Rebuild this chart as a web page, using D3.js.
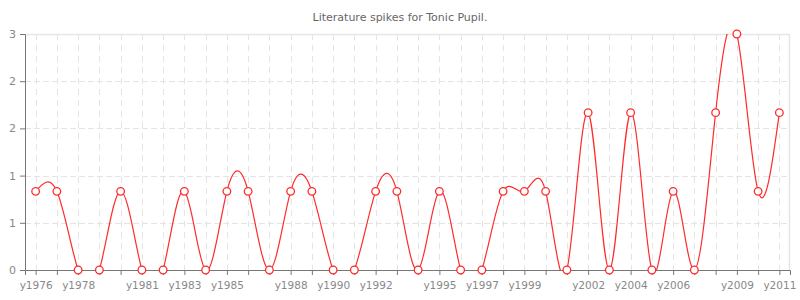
<!DOCTYPE html>
<html>
<head>
<meta charset="utf-8">
<script src="https://cdn.jsdelivr.net/npm/d3@7"></script>
<style>
  body { margin: 0; background: #fff; }
  #chart { width: 800px; height: 300px; }
  text { font-family: "DejaVu Sans", Verdana, sans-serif; }
</style>
</head>
<body>
<div id="chart"></div>
<script>
// Datos
const years = d3.range(1976, 2012).map(d => "y" + d);
const spikes = [1, 1, 0, 0, 1, 0, 0, 1, 0, 1, 1, 0, 1, 1, 0, 0, 1, 1, 0, 1,
                0, 0, 1, 1, 1, 0, 2, 0, 2, 0, 1, 0, 2, 3, 1, 2];
const shownYears = ["y1976", "y1978", "y1981", "y1983", "y1985", "y1988", "y1990", "y1992",
                    "y1995", "y1997", "y1999", "y2002", "y2004", "y2006", "y2009", "y2011"];
const yTicks = [0, 0.6, 1.2, 1.8, 2.4, 3];

const data = years.map((y, i) => ({ year: y, value: spikes[i] }));

const margin = { top: 34, right: 10, bottom: 30, left: 25 };
const width = 800 - margin.left - margin.right;
const height = 300 - margin.top - margin.bottom;

const svg = d3.select("#chart")
    .append("svg")
    .attr("width", 800)
    .attr("height", 300);

// Titulo
svg.append("text")
    .attr("x", 400)
    .attr("y", 21)
    .attr("text-anchor", "middle")
    .style("font-size", "11px")
    .style("fill", "#666")
    .text("Literature spikes for Tonic Pupil.");

const g = svg.append("g")
    .attr("transform", `translate(${margin.left},${margin.top})`);

const x = d3.scalePoint()
    .domain(years)
    .range([0, width])
    .padding(0.5);

const y = d3.scaleLinear()
    .domain([0, 3])
    .range([height, 0]);

// Rejilla
g.append("g")
    .selectAll("line")
    .data(yTicks.slice(1, -1))
    .enter()
    .append("line")
    .attr("x1", 0)
    .attr("x2", width)
    .attr("y1", d => Math.round(y(d)) + 0.5)
    .attr("y2", d => Math.round(y(d)) + 0.5)
    .attr("stroke", "#e4e4e4")
    .attr("stroke-dasharray", "6,3");

g.append("g")
    .selectAll("line")
    .data(years)
    .enter()
    .append("line")
    .attr("x1", d => Math.round(x(d)) + 0.5)
    .attr("x2", d => Math.round(x(d)) + 0.5)
    .attr("y1", 0)
    .attr("y2", height)
    .attr("stroke", "#e4e4e4")
    .attr("stroke-dasharray", "6,5");

// Borde superior y derecho
g.append("path")
    .attr("d", `M0,0.5H${width - 0.5}V${height}`)
    .attr("fill", "none")
    .attr("stroke", "#e6e6e6")
    .attr("stroke-width", 1.5);

// Linea recortada al area
g.append("clipPath")
    .attr("id", "clip")
    .append("rect")
    .attr("width", width)
    .attr("height", height);

const line = d3.line()
    .x(d => x(d.year))
    .y(d => y(d.value))
    .curve(d3.curveNatural);

g.append("path")
    .datum(data)
    .attr("clip-path", "url(#clip)")
    .attr("fill", "none")
    .attr("stroke", "#ff2b2b")
    .attr("stroke-width", 1.2)
    .attr("d", line);

// Ejes
const xAxis = g.append("g")
    .attr("class", "x-axis")
    .attr("transform", `translate(0,${height})`)
    .call(d3.axisBottom(x).tickSizeOuter(0).tickSize(5)
        .tickFormat(d => shownYears.includes(d) ? d : ""));
xAxis.selectAll("text").style("font-size", "10.5px").style("fill", "#888").attr("dy", "1.05em");

const yAxis = g.append("g")
    .attr("class", "y-axis")
    .call(d3.axisLeft(y).tickValues(yTicks).tickSizeOuter(0).tickSize(5)
        .tickFormat(d3.format(".0f")));
yAxis.selectAll("text").style("font-size", "11px").style("fill", "#888").attr("x", -9);

g.selectAll(".domain, .tick line").attr("stroke", "#777");

// Puntos
g.selectAll(".dot")
    .data(data)
    .enter()
    .append("circle")
    .attr("class", "dot")
    .attr("cx", d => x(d.year))
    .attr("cy", d => y(d.value))
    .attr("r", 3.8)
    .attr("fill", "#fff")
    .attr("stroke", "#ff2b2b")
    .attr("stroke-width", 1.3);
</script>
</body>
</html>
